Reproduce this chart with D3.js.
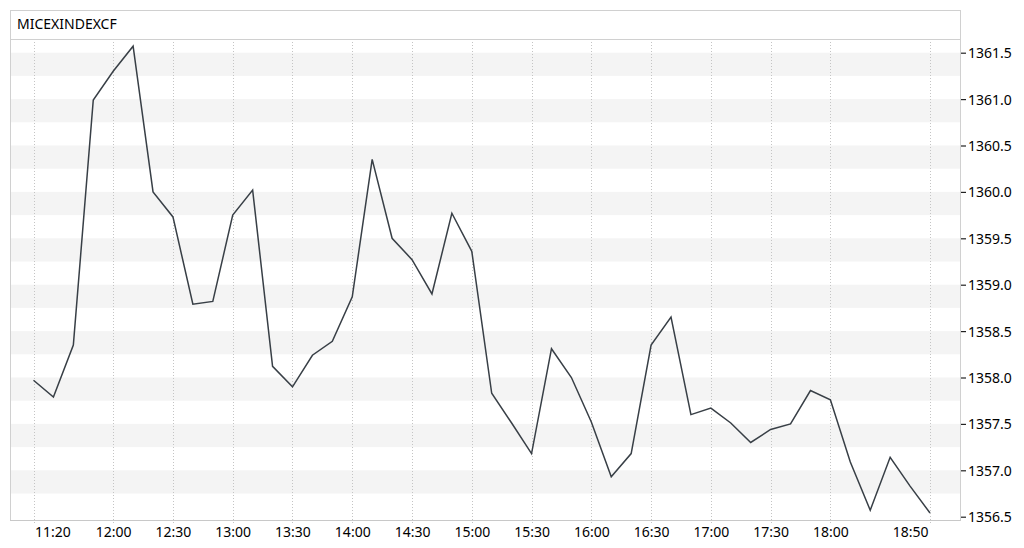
<!DOCTYPE html>
<html>
<head>
<meta charset="utf-8">
<script src="https://cdn.jsdelivr.net/npm/d3@7"></script>
<style>
  html, body { margin: 0; padding: 0; background: #fff; }
  svg { display: block; }
  text { font-family: "Noto Sans", "Liberation Sans", sans-serif; }
</style>
</head>
<body>
<svg id="chart" width="1024" height="548"></svg>
<script>
const title = "MICEXINDEXCF";

const times = [
  "11:20","11:30","11:40","11:50","12:00","12:10","12:20","12:30","12:40","12:50",
  "13:00","13:10","13:20","13:30","13:40","13:50","14:00","14:10","14:20","14:30",
  "14:40","14:50","15:00","15:10","15:20","15:30","15:40","15:50","16:00","16:10",
  "16:20","16:30","16:40","16:50","17:00","17:10","17:20","17:30","17:40","17:50",
  "18:00","18:10","18:20","18:30","18:40","18:50"
];

const values = [
  1357.97, 1357.79, 1358.35, 1360.99, 1361.30, 1361.57, 1360.00, 1359.73, 1358.79, 1358.82,
  1359.75, 1360.02, 1358.12, 1357.90, 1358.24, 1358.39, 1358.87, 1360.35, 1359.50, 1359.27,
  1358.90, 1359.77, 1359.36, 1357.83, 1357.51, 1357.18, 1358.31, 1358.00, 1357.52, 1356.93,
  1357.18, 1358.35, 1358.65, 1357.60, 1357.67, 1357.51, 1357.30, 1357.44, 1357.50, 1357.86,
  1357.76, 1357.09, 1356.57, 1357.14, 1356.83, 1356.54
];

const xTickLabels = ["11:20","12:00","12:30","13:00","13:30","14:00","14:30","15:00",
  "15:30","16:00","16:30","17:00","17:30","18:00","18:50"];

const yTickValues = [1356.5, 1357.0, 1357.5, 1358.0, 1358.5, 1359.0, 1359.5, 1360.0, 1360.5, 1361.0, 1361.5];

// ---- layout ----
const frame = { left: 10, top: 10, right: 960, bottom: 520 };
const titleBottom = 39;

const toMin = s => { const [h, m] = s.split(":").map(Number); return h * 60 + m; };

const x = d3.scaleLinear()
  .domain([toMin(times[0]), toMin(times[times.length - 1])])
  .range([33.5, 930]);

const y = d3.scaleLinear()
  .domain([1356.5, 1361.5])
  .range([516.7, 52.7]);

const svg = d3.select("#chart");

svg.append("rect").attr("x", 0).attr("y", 0).attr("width", 1024).attr("height", 548).attr("fill", "#fff");

const plot = svg.append("g");

// alternating bands (quarter below each labelled tick is shaded)
plot.selectAll("rect.band")
  .data(yTickValues.filter(v => v > 1356.5))
  .join("rect")
  .attr("class", "band")
  .attr("x", frame.left)
  .attr("width", frame.right - frame.left)
  .attr("y", d => y(d))
  .attr("height", d => y(d - 0.25) - y(d))
  .attr("fill", "#f4f4f4");

// vertical dotted grid
plot.selectAll("line.vgrid")
  .data(xTickLabels)
  .join("line")
  .attr("class", "vgrid")
  .attr("x1", d => Math.round(x(toMin(d))) + 0.5)
  .attr("x2", d => Math.round(x(toMin(d))) + 0.5)
  .attr("y1", titleBottom)
  .attr("y2", frame.bottom + 3)
  .attr("stroke", "#c4c4c4")
  .attr("stroke-width", 1)
  .attr("stroke-dasharray", "1,2");

// frame
svg.append("rect")
  .attr("x", frame.left + 0.5).attr("y", frame.top + 0.5)
  .attr("width", frame.right - frame.left).attr("height", frame.bottom - frame.top)
  .attr("fill", "none").attr("stroke", "#d0d0d0").attr("stroke-width", 1);

svg.append("line")
  .attr("x1", frame.left).attr("x2", frame.right + 0.5)
  .attr("y1", titleBottom + 0.5).attr("y2", titleBottom + 0.5)
  .attr("stroke", "#d0d0d0");

// title
svg.append("text")
  .attr("x", 17).attr("y", 29)
  .attr("font-size", 14)
  .attr("fill", "#000")
  .text(title);

// line
const line = d3.line()
  .x((d, i) => x(toMin(times[i])))
  .y(d => y(d));

svg.append("path")
  .datum(values)
  .attr("d", line)
  .attr("fill", "none")
  .attr("stroke", "#383f46")
  .attr("stroke-width", 1.5)
  .attr("stroke-linejoin", "miter");

// y axis (right)
const yAxis = d3.axisRight(y)
  .tickValues(yTickValues)
  .tickFormat(d3.format(".1f"))
  .tickSize(5)
  .tickPadding(2);

const gy = svg.append("g")
  .attr("transform", `translate(${frame.right + 1},0)`)
  .call(yAxis);
gy.select(".domain").remove();
gy.selectAll(".tick line").attr("stroke", "#222").attr("stroke-width", 1.2);
gy.selectAll(".tick text")
  .attr("font-size", 14)
  .attr("font-family", "Noto Sans")
  .attr("fill", "#000")
  .attr("dy", "0.36em");

// x axis (bottom)
const xAxis = d3.axisBottom(x)
  .tickValues(xTickLabels.map(toMin))
  .tickFormat((d, i) => xTickLabels[i])
  .tickSize(0)
  .tickPadding(6);

const gx = svg.append("g")
  .attr("transform", `translate(0,${frame.bottom + 1})`)
  .call(xAxis);
gx.select(".domain").remove();
gx.selectAll(".tick text")
  .attr("font-size", 14)
  .attr("font-family", "Noto Sans")
  .attr("fill", "#000")
  .attr("text-anchor", (d, i) => i === 0 ? "start" : (i === xTickLabels.length - 1 ? "end" : "middle"))
  .attr("dx", (d, i) => i === 0 ? "1" : (i === xTickLabels.length - 1 ? "-2" : "0"));

// x axis baseline
svg.append("line")
  .attr("x1", frame.left).attr("x2", frame.right + 0.5)
  .attr("y1", frame.bottom + 0.5).attr("y2", frame.bottom + 0.5)
  .attr("stroke", "#c8c8c8");
</script>
</body>
</html>
